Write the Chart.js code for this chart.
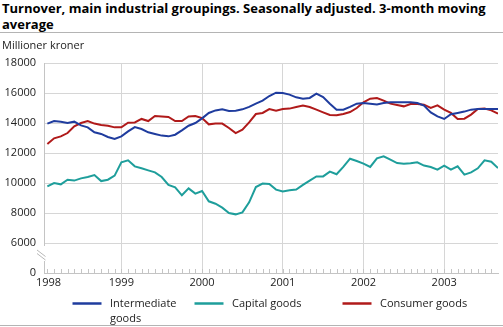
<!DOCTYPE html>
<html>
<head>
<meta charset="utf-8">
<script src="https://cdn.jsdelivr.net/npm/chart.js@4/dist/chart.umd.min.js"></script>
<style>
  html, body { margin: 0; padding: 0; background: #fff; }
  #wrap { position: relative; width: 503px; height: 327px; overflow: hidden; font-family: "Open Sans", sans-serif; }
  #title { position: absolute; left: 2px; top: 0px; margin: 0; font-size: 13px; font-weight: bold; line-height: 16px; color: #000; white-space: nowrap; }
  .rule { position: absolute; left: 0; width: 503px; height: 1px; background: #b4b4b4; }
  canvas { position: absolute; left: 0; top: 0; }
</style>
</head>
<body>
<div id="wrap">
  <h1 id="title">Turnover, main industrial groupings. Seasonally adjusted. 3-month moving<br>average</h1>
  <div class="rule" style="top:32px"></div>
  <div class="rule" style="top:325px"></div>
  <canvas id="c" width="503" height="327"></canvas>
</div>
<script>
// Year labels on the time axis (one per January)
const years = ['1998', '1999', '2000', '2001', '2002', '2003'];

// Monthly values, Jan 1998 - Aug 2003, NOK million
const intermediateGoods = [
  13960, 14130, 14090, 14000, 14090, 13840, 13710, 13380, 13270, 13070, 12930, 13110,
  13440, 13730, 13600, 13380, 13270, 13160, 13110, 13220, 13510, 13820, 14000, 14310,
  14670, 14840, 14910, 14800, 14820, 14910, 15070, 15290, 15490, 15800, 16020, 16000,
  15890, 15710, 15620, 15670, 15960, 15730, 15290, 14890, 14890, 15070, 15290, 15330,
  15290, 15240, 15330, 15380, 15380, 15380, 15380, 15330, 15160, 14710, 14440, 14270,
  14580, 14670, 14760, 14890, 14930, 14930, 14930, 14930
];
const capitalGoods = [
  9780, 10000, 9910, 10220, 10160, 10310, 10400, 10530, 10130, 10220, 10490, 11380,
  11510, 11110, 10980, 10840, 10710, 10400, 9870, 9710, 9180, 9640, 9290, 9470,
  8780, 8620, 8360, 8000, 7910, 8040, 8710, 9730, 9960, 9930, 9560, 9440,
  9510, 9560, 9870, 10160, 10440, 10440, 10760, 10580, 11070, 11620, 11470, 11290,
  11070, 11640, 11780, 11560, 11330, 11290, 11310, 11380, 11160, 11070, 10890, 11160,
  10890, 11110, 10560, 10710, 10980, 11510, 11420, 11000
];
const consumerGoods = [
  12600, 12980, 13110, 13330, 13780, 14000, 14130, 13960, 13870, 13820, 13710, 13710,
  14020, 14040, 14270, 14130, 14470, 14440, 14400, 14130, 14130, 14440, 14470, 14330,
  13910, 13960, 13960, 13670, 13330, 13560, 14040, 14600, 14670, 14930, 14820, 14930,
  14960, 15070, 15160, 15070, 14890, 14710, 14530, 14510, 14600, 14730, 15000, 15380,
  15620, 15670, 15490, 15290, 15200, 15110, 15270, 15270, 15220, 15000, 15180, 14890,
  14670, 14270, 14290, 14560, 14930, 14960, 14840, 14620
];

const seriesNames = ['Intermediate goods', 'Capital goods', 'Consumer goods'];
const seriesColors = ['#1f3c9e', '#1e9e9b', '#b01a1a'];

// The value axis is broken: everything below 6000 is squeezed, its floor reads 0
const AXIS_FLOOR = 4000;
const FONT = '"Open Sans", sans-serif';
const TEXT = '#222';
const GRID = '#d6d6d6';

// each monthly value sits at the end of its month on a month-count axis
const toPoints = arr => arr.map((v, i) => ({ x: i + 1, y: v }));

const extras = {
  id: 'extras',
  afterDraw(chart) {
    const ctx = chart.ctx;
    const xs = chart.scales.x, ys = chart.scales.y;
    const area = chart.chartArea;
    ctx.save();

    // unit label
    ctx.font = '11px ' + FONT;
    ctx.fillStyle = TEXT;
    ctx.textBaseline = 'middle';
    ctx.textAlign = 'left';
    ctx.fillText('Millioner kroner', 2, 46);

    // month ticks along the base line
    ctx.strokeStyle = '#c4c4c4';
    ctx.lineWidth = 1;
    for (let k = 1; k < 68; k++) {
      const px = Math.round(xs.getPixelForValue(k)) + 0.5;
      ctx.beginPath();
      ctx.moveTo(px, area.bottom - 4);
      ctx.lineTo(px, area.bottom);
      ctx.stroke();
    }

    // year labels
    ctx.fillStyle = TEXT;
    ctx.textAlign = 'center';
    years.forEach((y, i) => {
      const px = Math.max(xs.getPixelForValue(i * 12), area.left + 4.5);
      ctx.fillText(y, px, area.bottom + 10);
    });

    // axis break marks between 0 and 6000
    const y6 = ys.getPixelForValue(6000);
    ctx.fillStyle = '#fff';
    ctx.fillRect(area.left - 2, y6 + 3, 5, 15);
    ctx.strokeStyle = '#b8b8b8';
    ctx.beginPath();
    ctx.moveTo(area.left - 7, y6 + 7);
    ctx.lineTo(area.left + 1.5, y6 + 13.5);
    ctx.moveTo(area.left - 7, y6 + 10.5);
    ctx.lineTo(area.left + 1.5, y6 + 17);
    ctx.stroke();

    // legend
    const slots = [
      { x: 72.5, maxW: 70 },
      { x: 194.5, maxW: 120 },
      { x: 342.5, maxW: 120 }
    ];
    const ly = 303.5;
    chart.data.datasets.forEach((ds, i) => {
      const s = slots[i];
      ctx.strokeStyle = ds.borderColor;
      ctx.lineWidth = 2.5;
      ctx.beginPath();
      ctx.moveTo(s.x, ly);
      ctx.lineTo(s.x + 29, ly);
      ctx.stroke();
      ctx.fillStyle = TEXT;
      ctx.textAlign = 'left';
      ctx.font = '11px ' + FONT;
      // wrap label onto a second line when it is wider than its slot
      const words = ds.label.split(' ');
      const lines = [];
      let cur = '';
      words.forEach(w => {
        const test = cur ? cur + ' ' + w : w;
        if (cur && ctx.measureText(test).width > s.maxW) { lines.push(cur); cur = w; }
        else cur = test;
      });
      lines.push(cur);
      lines.forEach((t, j) => ctx.fillText(t, s.x + 37.5, ly + j * 15));
    });

    ctx.restore();
  }
};

new Chart(document.getElementById('c'), {
  type: 'line',
  data: {
    datasets: [
      { label: seriesNames[0], data: toPoints(intermediateGoods), borderColor: seriesColors[0] },
      { label: seriesNames[1], data: toPoints(capitalGoods), borderColor: seriesColors[1] },
      { label: seriesNames[2], data: toPoints(consumerGoods), borderColor: seriesColors[2] }
    ].map(d => Object.assign(d, { borderWidth: 2, pointRadius: 0, tension: 0, fill: false }))
  },
  options: {
    responsive: false,
    animation: false,
    devicePixelRatio: 1,
    layout: { padding: { top: 63, right: 5, left: 0, bottom: 0 } },
    plugins: { legend: { display: false }, tooltip: { enabled: false }, title: { display: false } },
    scales: {
      x: {
        type: 'linear',
        min: 0.5,
        max: 68,
        afterFit(s) { s.height = 54; },
        afterBuildTicks(s) { s.ticks = [12, 24, 36, 48, 60].map(v => ({ value: v })); },
        ticks: { display: false },
        grid: { color: GRID, drawTicks: false },
        border: { color: '#c4c4c4' }
      },
      y: {
        min: AXIS_FLOOR,
        max: 18000,
        afterFit(s) { s.width = 44; },
        ticks: {
          stepSize: 2000,
          padding: 8,
          color: TEXT,
          font: { family: FONT, size: 11 },
          callback: v => (v === AXIS_FLOOR ? '0' : String(v))
        },
        grid: { color: GRID, drawTicks: false },
        border: { color: '#c4c4c4' }
      }
    }
  },
  plugins: [extras]
});
</script>
</body>
</html>
